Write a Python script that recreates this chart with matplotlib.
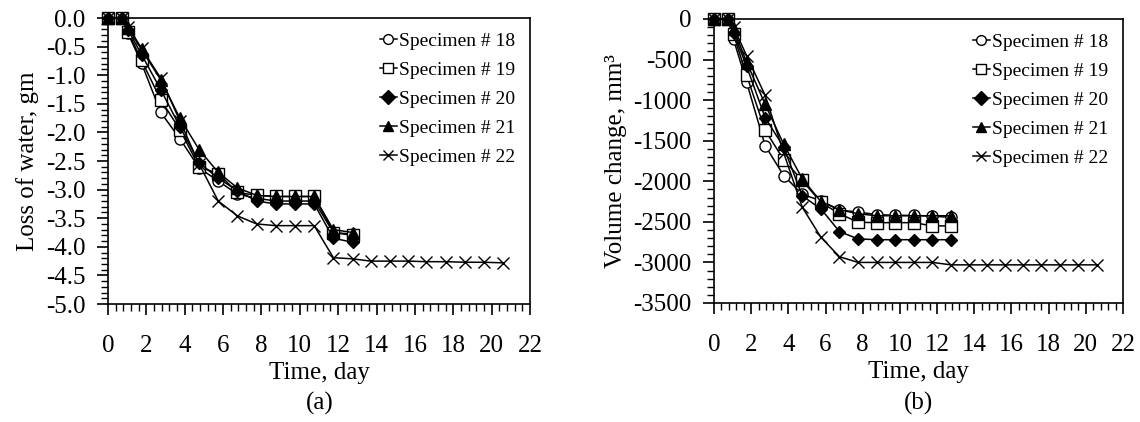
import matplotlib
matplotlib.use("Agg")
import matplotlib.pyplot as plt
from matplotlib.ticker import MultipleLocator, FormatStrFormatter

plt.rcParams['font.family'] = ['Liberation Serif', 'DejaVu Serif']
plt.rcParams['axes.unicode_minus'] = False

# time, day
t = [0, 0.75, 1.05, 1.75, 2.75, 3.75, 4.75, 5.75, 6.75, 7.75, 8.75, 9.75, 10.75, 11.75, 12.75]
t22 = t + [13.7, 14.7, 15.65, 16.6, 17.6, 18.6, 19.6, 20.6]

labels = ['Specimen # 18', 'Specimen # 19', 'Specimen # 20', 'Specimen # 21', 'Specimen # 22']

# loss of water, gm
w18 = [0, 0, -0.27, -0.79, -1.65, -2.11, -2.62, -2.85, -3.08, -3.15, -3.2, -3.2, -3.2, -3.75, -3.78]
w19 = [0, 0, -0.24, -0.74, -1.43, -1.95, -2.6, -2.72, -3.05, -3.1, -3.12, -3.12, -3.12, -3.75, -3.8]
w20 = [0, 0, -0.21, -0.64, -1.25, -1.9, -2.53, -2.8, -3.02, -3.2, -3.25, -3.25, -3.25, -3.85, -3.92]
w21 = [0, 0, -0.18, -0.55, -1.08, -1.75, -2.3, -2.7, -2.97, -3.1, -3.12, -3.12, -3.12, -3.7, -3.75]
w22 = [0, 0, -0.15, -0.53, -1.05, -1.8, -2.55, -3.2, -3.46, -3.6, -3.63, -3.63, -3.63, -4.19, -4.21,
       -4.25, -4.25, -4.25, -4.26, -4.26, -4.27, -4.27, -4.28]

# volume change, mm3
v18 = [0, 0, -250, -775, -1560, -1930, -2160, -2240, -2355, -2380, -2410, -2420, -2420, -2430, -2445]
v19 = [0, 0, -190, -690, -1370, -1735, -1990, -2260, -2400, -2505, -2510, -2510, -2510, -2550, -2550]
v20 = [0, 0, -170, -580, -1215, -1580, -2180, -2340, -2620, -2710, -2720, -2720, -2720, -2720, -2720]
v21 = [0, 0, -120, -530, -1050, -1545, -1970, -2250, -2350, -2400, -2425, -2425, -2425, -2425, -2425]
v22 = [0, 0, -100, -450, -940, -1650, -2320, -2690, -2930, -3000, -3000, -3000, -3000, -3000, -3030,
       -3030, -3030, -3030, -3030, -3030, -3030, -3030, -3030]

styles = [dict(marker='o', mfc='white'), dict(marker='s', mfc='white'),
          dict(marker='D', mfc='black', ms=6.5), dict(marker='^', mfc='black'),
          dict(marker='x', mfc='black', ms=9)]

fig = plt.figure(figsize=(11.4, 4.22), dpi=100)
ax1 = fig.add_axes([0.0947, 0.2796, 0.3702, 0.6777])
ax2 = fig.add_axes([0.6263, 0.2820, 0.3588, 0.6730])


def draw(ax, series, xs):
    for y, x, st, lab in zip(series, xs, styles, labels):
        kw = dict(color='black', mec='black', lw=1.1, ms=8, mew=1.0)
        kw.update(st)
        ax.plot(x, y, label=lab, clip_on=False, **kw)
    ax.set_xlim(0, 22)
    ax.xaxis.set_major_locator(MultipleLocator(2))
    ax.xaxis.set_minor_locator(MultipleLocator(0.4))
    ax.tick_params(which='major', direction='out', length=8, width=1.2, labelsize=18, pad=14)
    ax.tick_params(axis='y', which='major', pad=8)
    ax.tick_params(which='minor', direction='out', length=5, width=1.0)
    for s in ax.spines.values():
        s.set_linewidth(1.2)
    ax.set_xlabel('Time, day', fontsize=18, labelpad=4)
    leg = ax.legend(loc='upper right', frameon=False, fontsize=14, handlelength=0.9,
                    handletextpad=0.1, labelspacing=0.58, borderaxespad=0.35)
    for h in leg.legend_handles:
        h.set_markersize(7)


draw(ax1, [w18, w19, w20, w21, w22], [t, t, t, t, t22])
ax1.set_ylim(-5, 0)
ax1.yaxis.set_major_locator(MultipleLocator(0.5))
ax1.yaxis.set_minor_locator(MultipleLocator(0.1))
ax1.yaxis.set_major_formatter(FormatStrFormatter('%.1f'))
ax1.set_ylabel('Loss of water, gm', fontsize=18, labelpad=5)

draw(ax2, [v18, v19, v20, v21, v22], [t, t, t, t, t22])
ax2.set_ylim(-3500, 0)
ax2.yaxis.set_major_locator(MultipleLocator(500))
ax2.yaxis.set_minor_locator(MultipleLocator(100))
ax2.set_ylabel('Volume change, mm³', fontsize=18, labelpad=5)

fig.text(0.2803, 0.043, '(a)', ha='center', va='center', fontsize=18)
fig.text(0.8057, 0.043, '(b)', ha='center', va='center', fontsize=18)

fig.savefig('out.png', dpi=100)
